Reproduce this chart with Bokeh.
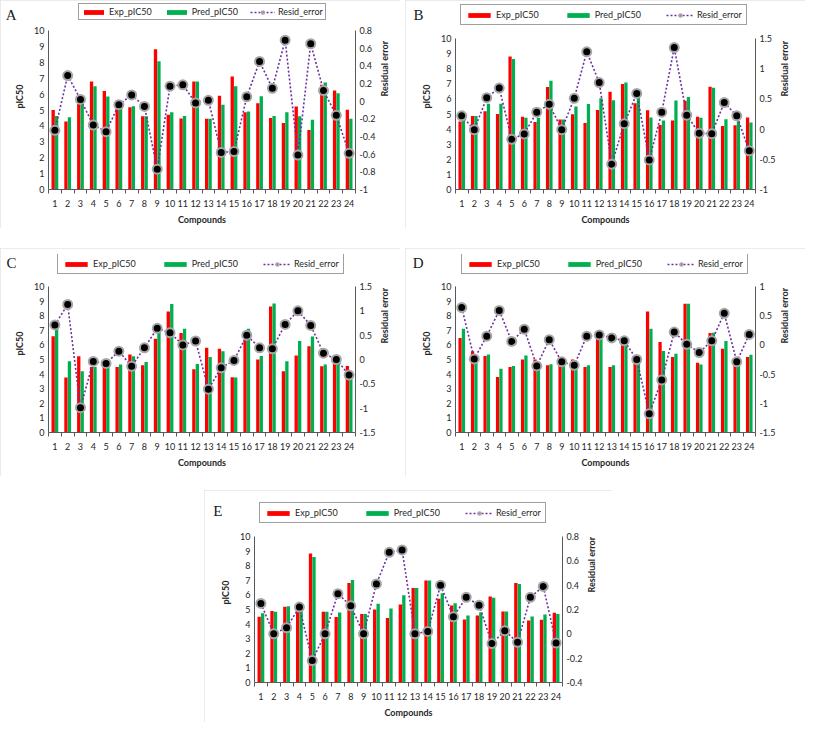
import math
from bokeh.plotting import figure
from bokeh.models import (ColumnDataSource, Range1d, LinearAxis, FixedTicker,
                          PrintfTickFormatter, Legend, LegendItem, Spacer)
from bokeh.layouts import row, column
from bokeh.transform import dodge
from bokeh.embed import file_html
from bokeh.resources import INLINE

compounds = list(range(1, 25))

a_exp = [5.0, 4.27, 5.37, 6.79, 6.2, 5.3, 5.18, 4.6, 8.82, 4.7, 4.47, 6.8,
         4.45, 5.9, 7.1, 4.86, 5.43, 4.5, 4.19, 5.22, 3.74, 6.59, 6.22, 5.02]
a_pred = [4.63, 4.55, 5.37, 6.5, 5.85, 5.3, 5.24, 4.6, 8.07, 4.86, 4.63, 6.8,
          4.45, 5.33, 6.5, 4.9, 5.87, 4.63, 4.86, 4.6, 4.39, 6.73, 6.06, 4.45]
a_resid = [-0.33, 0.29, 0.02, -0.27, -0.345, -0.04, 0.07, -0.06, -0.77, 0.17, 0.185, -0.02,
           0.01, -0.58, -0.57, 0.05, 0.45, 0.145, 0.69, -0.61, 0.65, 0.12, -0.16, -0.59]

b_exp = [4.5, 4.86, 5.18, 5.0, 8.8, 4.82, 4.47, 6.78, 4.63, 4.98, 4.4, 5.27,
         6.48, 6.99, 5.71, 5.25, 4.27, 4.57, 5.87, 4.82, 6.8, 4.2, 4.25, 4.77]
b_pred = [4.7, 4.86, 5.68, 5.68, 8.65, 4.75, 4.75, 7.2, 4.63, 5.5, 5.66, 6.05,
          5.91, 7.08, 6.21, 4.77, 4.57, 5.9, 6.12, 4.75, 6.74, 4.66, 4.52, 4.43]
b_resid = [0.22, -0.01, 0.52, 0.68, -0.17, -0.08, 0.28, 0.41, -0.01, 0.51, 1.28, 0.77,
           -0.58, 0.09, 0.59, -0.51, 0.28, 1.35, 0.23, -0.07, -0.075, 0.44, 0.22, -0.36]

c_exp = [6.6, 3.76, 5.22, 4.49, 4.49, 4.49, 5.35, 4.6, 6.42, 8.29, 6.81, 4.33,
         5.8, 5.74, 3.78, 6.31, 5.0, 8.63, 4.2, 5.28, 5.9, 4.53, 4.78, 4.56]
c_pred = [7.2, 4.88, 4.2, 4.49, 4.6, 4.65, 5.22, 4.83, 6.92, 8.8, 7.1, 4.7,
          5.17, 5.56, 3.76, 7.1, 5.24, 8.84, 4.88, 6.26, 6.58, 4.65, 4.78, 4.2]
c_resid = [0.71, 1.13, -0.99, -0.04, -0.08, 0.17, -0.14, 0.24, 0.64, 0.55, 0.30, 0.38,
           -0.61, -0.17, -0.02, 0.5, 0.24, 0.22, 0.72, 1.0, 0.7, 0.13, 0.0, -0.32]

d_exp = [6.47, 5.56, 5.24, 3.8, 4.49, 5.0, 5.0, 4.6, 4.65, 5.0, 4.49, 6.6,
         4.49, 6.2, 5.2, 8.29, 6.2, 5.17, 8.82, 4.78, 6.81, 5.74, 4.6, 5.17]
d_pred = [7.1, 5.17, 5.35, 4.37, 4.56, 5.28, 4.6, 4.67, 4.65, 4.49, 4.6, 6.54,
          4.6, 6.1, 5.0, 7.1, 5.58, 5.4, 8.82, 4.65, 6.83, 6.26, 4.6, 5.33]
d_resid = [0.64, -0.24, 0.15, 0.59, 0.06, 0.27, -0.36, 0.09, -0.29, -0.35, 0.15, 0.17,
           0.12, 0.07, -0.25, -1.18, -0.6, 0.22, 0.01, -0.13, 0.07, 0.54, -0.29, 0.18]

e_exp = [4.5, 4.9, 5.18, 4.9, 8.84, 4.84, 4.48, 6.82, 4.7, 5.0, 4.41, 5.34,
         6.48, 6.98, 5.73, 5.27, 4.32, 4.59, 5.89, 4.86, 6.82, 4.25, 4.3, 4.77]
e_pred = [4.75, 4.85, 5.22, 5.1, 8.6, 4.85, 4.8, 7.02, 4.7, 5.4, 5.07, 5.98,
          6.48, 6.98, 6.11, 5.43, 4.59, 4.82, 5.8, 4.86, 6.75, 4.52, 4.66, 4.7]
e_resid = [0.25, 0.0, 0.05, 0.22, -0.22, 0.0, 0.33, 0.23, 0.0, 0.41, 0.67, 0.69,
           0.0, 0.02, 0.4, 0.14, 0.3, 0.235, -0.08, 0.025, -0.07, 0.3, 0.39, -0.075]

left_ticks = list(range(0, 11))
a_rticks = [-1, -0.8, -0.6, -0.4, -0.2, 0, 0.2, 0.4, 0.6, 0.8]
b_rticks = [-1, -0.5, 0, 0.5, 1, 1.5]
c_rticks = [-1.5, -1, -0.5, 0, 0.5, 1, 1.5]
d_rticks = [-1.5, -1, -0.5, 0, 0.5, 1]
e_rticks = [-0.4, -0.2, 0, 0.2, 0.4, 0.6, 0.8]

RED = "#FF0000"
GREEN = "#00B050"
PURPLE = "#7030A0"
AXIS = "#595959"
TXT = "#262626"
FONT = "Lato"


def panel(letter, exp, pred, resid, rticks, width, height, left, right,
          ftop, y10, y0, leg_x, leg_bottom, leg_pad, leg_spacing, glyph_w, let_y):
    # ftop / y10 / y0 / leg_bottom / let_y: pixel rows inside this canvas
    bottom = height - y0
    scale = (y0 - ftop) / (y0 - y10)
    ytop = left_ticks[-1] * scale
    rmin, rmax = rticks[0], rticks[-1]
    rtop = rmin + (rmax - rmin) * scale
    ppu = (y0 - y10) / left_ticks[-1]
    p = figure(width=width, height=height, x_range=Range1d(0.5, 24.5),
               y_range=Range1d(0, ytop), output_backend="svg", toolbar_location=None,
               min_border_left=left, min_border_right=right,
               min_border_top=ftop, min_border_bottom=bottom)
    p.styles = {"outline": "1px solid #e4e4e4", "outline-offset": "-1px"}
    p.extra_y_ranges = {"res": Range1d(rmin, rtop)}
    src = ColumnDataSource(dict(x=compounds, exp=exp, pred=pred, res=resid))
    r1 = p.vbar(x=dodge("x", -0.135, range=p.x_range), top="exp", width=0.26,
                source=src, fill_color=RED, line_color=None)
    r2 = p.vbar(x=dodge("x", 0.135, range=p.x_range), top="pred", width=0.26,
                source=src, fill_color=GREEN, line_color=None)
    r3 = p.line("x", "res", source=src, y_range_name="res", line_color=PURPLE,
                line_dash="2 2", line_width=1.6)
    r4 = p.scatter("x", "res", source=src, y_range_name="res", size=9,
                   fill_color="black", line_color="#a6a6a6", line_width=2)

    p.xgrid.visible = False
    p.ygrid.visible = False
    p.outline_line_color = None

    rax = LinearAxis(y_range_name="res")
    p.add_layout(rax, "right")

    for ax in p.xaxis + p.yaxis:
        ax.axis_line_color = AXIS
        ax.major_label_text_font = FONT
        ax.major_label_text_font_size = "9px"
        ax.major_label_text_color = TXT
        ax.axis_label_text_font = FONT
        ax.axis_label_text_font_size = "9px"
        ax.axis_label_text_font_style = "bold"
        ax.axis_label_text_color = TXT
        ax.major_tick_line_color = None
        ax.minor_tick_line_color = None
        ax.major_tick_out = 0
        ax.major_tick_in = 0
        ax.minor_tick_out = 0
        ax.minor_tick_in = 0
        ax.major_label_standoff = 4
        ax.axis_label_standoff = 6

    p.xaxis.ticker = FixedTicker(ticks=compounds,
                                 minor_ticks=[c - 0.5 for c in compounds] + [compounds[-1] + 0.5])
    p.xaxis.minor_tick_line_color = AXIS
    p.xaxis.minor_tick_out = 4
    p.xaxis.major_label_standoff = 6
    p.xaxis.axis_label_standoff = 4
    p.xaxis.axis_label = "Compounds"

    lax = p.yaxis[0]
    lax.ticker = FixedTicker(ticks=left_ticks)
    lax.bounds = (left_ticks[0], left_ticks[-1])
    lax.axis_label = "pIC50"

    rax.ticker = FixedTicker(ticks=rticks)
    rax.bounds = (rmin, rmax)
    rax.formatter = PrintfTickFormatter(format="%g")
    rax.axis_label = "Residual error"
    try:
        rax.axis_label_orientation = math.pi / 2
    except Exception:
        pass

    # panel letter: an outer left axis carrying a single label
    letter_val = left_ticks[-1] + (y10 - let_y) / ppu
    tax = LinearAxis(ticker=FixedTicker(ticks=[letter_val]),
                     formatter=PrintfTickFormatter(format=letter))
    tax.axis_line_color = None
    tax.major_tick_line_color = None
    tax.minor_tick_line_color = None
    tax.major_tick_out = 0
    tax.minor_tick_out = 0
    tax.major_label_standoff = -5
    tax.major_label_text_font = "Liberation Serif"
    tax.major_label_text_font_size = "15px"
    tax.major_label_text_color = "#1a1a1a"
    p.add_layout(tax, "left")

    leg = Legend(items=[LegendItem(label="Exp_pIC50", renderers=[r1]),
                        LegendItem(label="Pred_pIC50", renderers=[r2]),
                        LegendItem(label="Resid_error", renderers=[r3, r4])],
                 location=(leg_x, y0 - leg_bottom), orientation="horizontal",
                 border_line_color="#404040", border_line_width=1,
                 padding=leg_pad, spacing=leg_spacing, margin=0,
                 glyph_width=glyph_w, glyph_height=6, label_height=9,
                 label_standoff=3, label_text_font=FONT, label_text_font_size="9px",
                 label_text_color=TXT, background_fill_color="white",
                 background_fill_alpha=1)
    p.add_layout(leg)
    return p


# row partners share top/bottom borders, column partners share left/right borders
pa = panel("A", a_exp, a_pred, a_resid, a_rticks, 400, 228, 48, 45,
           3, 30, 189, 30, 20, 2, 12, 25, 14)
pb = panel("B", b_exp, b_pred, b_resid, b_rticks, 400, 228, 50, 50,
           3, 38, 189, 5, 25, 4, 25, 28, 14)
pc = panel("C", c_exp, c_pred, c_resid, c_rticks, 400, 228, 48, 45,
           6, 38, 184, 9, 26, 4, 25, 28, 14)
pd_ = panel("D", d_exp, d_pred, d_resid, d_rticks, 400, 228, 50, 50,
            6, 38, 184, 6, 26, 4, 25, 28, 14)
pe = panel("E", e_exp, e_pred, e_resid, e_rticks, 408, 232, 50, 50,
           12, 46, 192, 5, 33, 4, 25, 28, 20)

layout = column(
    row(pa, pb, spacing=5),
    Spacer(height=20),
    row(pc, pd_, spacing=5),
    Spacer(height=14),
    row(Spacer(width=204), pe),
)

open("out.html", "w").write(file_html(layout, INLINE))
